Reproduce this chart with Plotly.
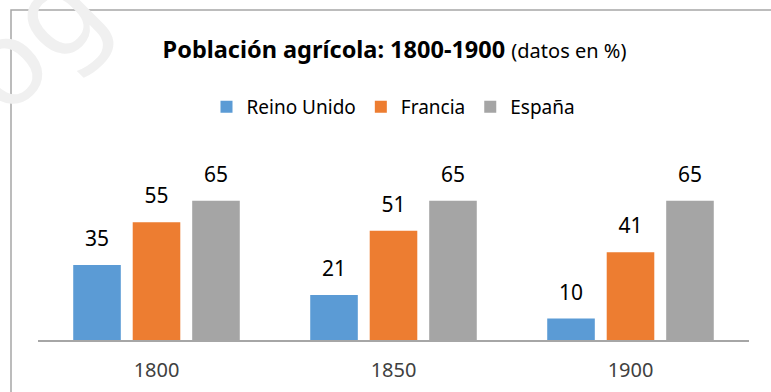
import plotly.graph_objects as go

# Chart data (% of population working in agriculture)
years = ["1800", "1850", "1900"]
reino_unido = [35, 21, 10]
francia = [55, 51, 41]
espana = [65, 65, 65]

series_names = ["Reino Unido", "Francia", "España"]
series_values = [reino_unido, francia, espana]
series_colors = ["#5B9BD5", "#ED7D31", "#A5A5A5"]

W, H = 771, 392
M_L, M_R, M_T, M_B = 38, 22, 190, 52
FONT = "Noto Sans"

fig = go.Figure()

for name, vals, col in zip(series_names, series_values, series_colors):
    fig.add_trace(go.Bar(
        x=years, y=vals, name=name, marker_color=col,
        marker_line_width=0, offsetgroup=name,
    ))

# value labels, grouped like the bars and lifted above each bar top
for name, vals in zip(series_names, series_values):
    fig.add_trace(go.Scatter(
        x=years, y=vals, mode="markers+text", text=[str(v) for v in vals],
        textposition="top center", offsetgroup=name,
        marker=dict(size=20, opacity=0), showlegend=False, hoverinfo="skip",
        textfont=dict(family=FONT, size=21, color="#000000"), cliponaxis=False,
    ))

pw = W - M_L - M_R
ph = H - M_T - M_B


def px_x(x):
    return (x - M_L) / pw


def px_y(y):
    return (H - M_B - y) / ph


# frame of the chart area (left and top edges visible)
fig.add_shape(type="rect", xref="paper", yref="paper",
              x0=px_x(11), x1=px_x(W + 20), y0=px_y(H + 20), y1=px_y(10),
              line=dict(color="#A6A6A6", width=1.5), layer="below")

# faint watermark in the corner
fig.add_annotation(text="og", xref="paper", yref="paper",
                   x=px_x(25), y=px_y(35), xanchor="center", yanchor="middle",
                   showarrow=False, textangle=-45,
                   font=dict(family=FONT, size=120, color="#F0F0F0"))

fig.update_layout(
    width=W, height=H,
    margin=dict(l=M_L, r=M_R, t=M_T, b=M_B, autoexpand=False),
    paper_bgcolor="white", plot_bgcolor="white",
    barmode="group", bargap=0.247, bargroupgap=0.2,
    scattermode="group", scattergap=0.247,
    title=dict(
        text="<b>Población agrícola: 1800-1900</b> <span style='font-size:20px'>(datos en %)</span>",
        x=394.5 / W, xanchor="center", y=1 - 50 / H, yanchor="middle", yref="container",
        font=dict(family=FONT, size=23.5, color="#000000"),
    ),
    legend=dict(
        orientation="h", x=0.5, xanchor="center", y=1 - 107 / H, yanchor="middle",
        yref="container", font=dict(family=FONT, size=19, color="#000000"),
        traceorder="normal",
    ),
    xaxis=dict(
        showline=True, linecolor="#A6A6A6", linewidth=2, showgrid=False,
        ticks="outside", ticklen=11, tickcolor="rgba(0,0,0,0)", automargin=False,
        tickfont=dict(family=FONT, size=20, color="#404040"),
    ),
    yaxis=dict(range=[0, 70], visible=False, showgrid=False, automargin=False),
    hovermode=False,
)

fig.write_html("out.html")
